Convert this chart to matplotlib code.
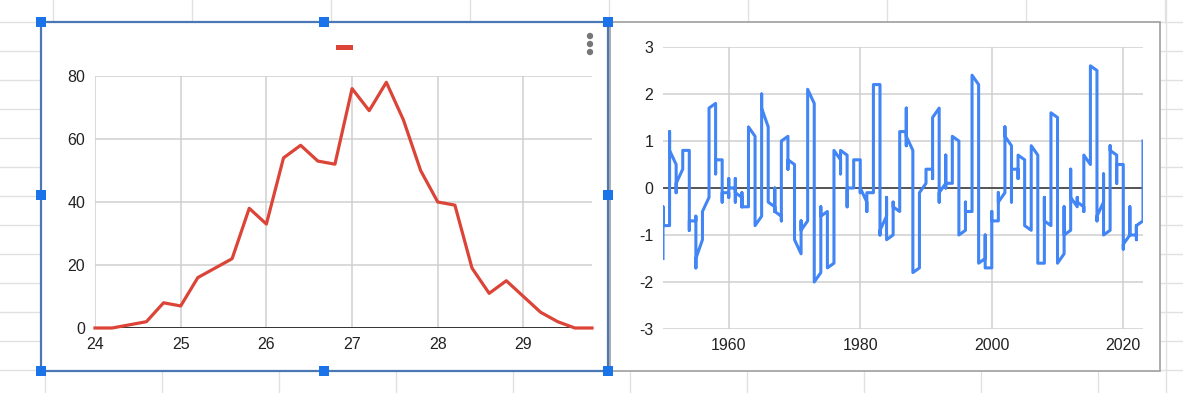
import numpy as np
import matplotlib.pyplot as plt
from matplotlib.patches import Rectangle, Circle

plt.rcParams['font.family'] = ['Liberation Sans', 'DejaVu Sans']
plt.rcParams['axes.unicode_minus'] = False

W, H = 1183, 393

# left chart: counts per temperature bin
temp = [24.0, 24.2, 24.4, 24.6, 24.8, 25.0, 25.2, 25.4, 25.6, 25.8,
        26.0, 26.2, 26.4, 26.6, 26.8, 27.0, 27.2, 27.4, 27.6, 27.8,
        28.0, 28.2, 28.4, 28.6, 28.8, 29.0, 29.2, 29.4, 29.6, 29.8]
counts = [0, 0, 1, 2, 8, 7, 16, 19, 22, 38,
          33, 54, 58, 53, 52, 76, 69, 78, 66, 50,
          40, 39, 19, 11, 15, 10, 5, 2, 0, 0]
temp_ticks = [24, 25, 26, 27, 28, 29]
count_ticks = [0, 20, 40, 60, 80]

# right chart: monthly index, 12 values per year, all plotted at the year
oni_1950s = [
    [-1.5, -1.3, -1.2, -1.2, -1.1, -0.9, -0.5, -0.4, -0.4, -0.4, -0.6, -0.8],
    [-0.8, -0.5, -0.2, 0.2, 0.4, 0.6, 0.7, 0.9, 1.0, 1.2, 1.0, 0.8],
    [0.5, 0.4, 0.3, 0.3, 0.2, 0.0, -0.1, 0.0, 0.2, 0.1, 0.0, 0.1],
    [0.4, 0.6, 0.6, 0.7, 0.8, 0.8, 0.7, 0.7, 0.8, 0.8, 0.8, 0.8],
    [0.8, 0.5, 0.0, -0.4, -0.5, -0.5, -0.6, -0.8, -0.9, -0.8, -0.7, -0.7],
    [-0.7, -0.6, -0.7, -0.8, -0.8, -0.7, -0.7, -0.7, -1.1, -1.4, -1.7, -1.5],
    [-1.1, -0.8, -0.6, -0.5, -0.5, -0.5, -0.5, -0.5, -0.5, -0.5, -0.5, -0.5],
    [-0.2, 0.0, 0.3, 0.6, 0.7, 0.9, 0.9, 0.9, 0.9, 1.0, 1.2, 1.7],
    [1.8, 1.6, 1.2, 0.8, 0.6, 0.6, 0.5, 0.3, 0.3, 0.4, 0.5, 0.6],
    [0.6, 0.6, 0.5, 0.3, 0.2, -0.1, -0.2, -0.3, -0.1, -0.1, -0.1, -0.1],
]
oni_1960s = [
    [-0.1, -0.2, -0.2, -0.1, 0.0, 0.1, 0.2, 0.2, 0.1, 0.0, 0.0, 0.0],
    [0.0, 0.0, -0.1, 0.0, 0.1, 0.2, 0.1, -0.1, -0.3, -0.3, -0.2, -0.1],
    [-0.2, -0.2, -0.2, -0.3, -0.3, -0.2, -0.1, -0.1, -0.2, -0.3, -0.4, -0.4],
    [-0.4, -0.2, 0.2, 0.3, 0.3, 0.5, 0.9, 1.1, 1.2, 1.3, 1.3, 1.3],
    [1.1, 0.6, 0.1, -0.3, -0.6, -0.6, -0.6, -0.7, -0.8, -0.8, -0.8, -0.8],
    [-0.6, -0.3, -0.1, 0.2, 0.5, 0.8, 1.2, 1.5, 1.8, 1.9, 2.0, 1.7],
    [1.3, 1.2, 1.0, 0.7, 0.4, 0.2, 0.2, 0.1, -0.1, -0.1, -0.2, -0.3],
    [-0.4, -0.5, -0.5, -0.4, -0.2, 0.0, 0.0, -0.2, -0.3, -0.4, -0.4, -0.5],
    [-0.6, -0.7, -0.7, -0.6, -0.3, 0.0, 0.3, 0.4, 0.3, 0.4, 0.7, 1.0],
    [1.1, 1.1, 0.9, 0.8, 0.6, 0.4, 0.4, 0.5, 0.8, 0.9, 0.8, 0.6],
]
oni_1970s = [
    [0.5, 0.3, 0.3, 0.2, 0.0, -0.3, -0.6, -0.8, -0.8, -0.7, -0.9, -1.1],
    [-1.4, -1.4, -1.1, -0.8, -0.7, -0.7, -0.8, -0.8, -0.8, -0.9, -1.0, -0.9],
    [-0.7, -0.4, 0.0, 0.3, 0.6, 0.8, 1.1, 1.4, 1.6, 1.8, 2.1, 2.1],
    [1.8, 1.2, 0.5, -0.1, -0.5, -0.9, -1.1, -1.3, -1.5, -1.7, -1.9, -2.0],
    [-1.8, -1.6, -1.2, -1.0, -0.9, -0.8, -0.5, -0.4, -0.4, -0.6, -0.8, -0.6],
    [-0.5, -0.6, -0.7, -0.7, -0.8, -1.0, -1.1, -1.2, -1.4, -1.4, -1.6, -1.7],
    [-1.6, -1.2, -0.7, -0.5, -0.3, 0.0, 0.2, 0.4, 0.6, 0.8, 0.8, 0.8],
    [0.6, 0.6, 0.3, 0.3, 0.3, 0.4, 0.4, 0.4, 0.5, 0.7, 0.8, 0.8],
    [0.7, 0.4, 0.1, -0.2, -0.3, -0.3, -0.4, -0.4, -0.4, -0.3, -0.1, 0.0],
    [0.0, 0.1, 0.2, 0.3, 0.2, 0.0, 0.0, 0.2, 0.3, 0.5, 0.5, 0.6],
]
oni_1980s = [
    [0.6, 0.5, 0.3, 0.4, 0.5, 0.5, 0.3, 0.0, -0.1, 0.0, 0.1, 0.0],
    [-0.3, -0.5, -0.5, -0.4, -0.3, -0.3, -0.3, -0.2, -0.2, -0.1, -0.2, -0.1],
    [-0.1, 0.0, 0.1, 0.4, 0.7, 0.7, 0.8, 1.1, 1.6, 2.0, 2.2, 2.2],
    [2.2, 1.9, 1.5, 1.3, 1.1, 0.7, 0.3, -0.1, -0.5, -0.8, -1.0, -0.9],
    [-0.6, -0.4, -0.3, -0.4, -0.5, -0.4, -0.3, -0.2, -0.2, -0.6, -0.9, -1.1],
    [-1.0, -0.8, -0.8, -0.8, -0.8, -0.6, -0.5, -0.5, -0.4, -0.3, -0.3, -0.4],
    [-0.5, -0.5, -0.3, -0.2, -0.1, 0.0, 0.2, 0.4, 0.7, 0.9, 1.1, 1.2],
    [1.2, 1.2, 1.1, 0.9, 1.0, 1.2, 1.5, 1.7, 1.6, 1.5, 1.3, 1.1],
    [0.8, 0.5, 0.1, -0.3, -0.9, -1.3, -1.3, -1.1, -1.2, -1.5, -1.8, -1.8],
    [-1.7, -1.4, -1.1, -0.8, -0.6, -0.4, -0.3, -0.3, -0.2, -0.2, -0.2, -0.1],
]
oni_1990s = [
    [0.1, 0.2, 0.3, 0.3, 0.2, 0.2, 0.3, 0.3, 0.4, 0.3, 0.4, 0.4],
    [0.4, 0.3, 0.2, 0.3, 0.5, 0.6, 0.7, 0.6, 0.6, 0.8, 1.2, 1.5],
    [1.7, 1.6, 1.5, 1.3, 1.1, 0.7, 0.4, 0.1, -0.1, -0.2, -0.3, -0.1],
    [0.1, 0.3, 0.5, 0.7, 0.7, 0.6, 0.3, 0.3, 0.2, 0.1, 0.0, 0.1],
    [0.1, 0.1, 0.2, 0.3, 0.4, 0.4, 0.4, 0.4, 0.6, 0.7, 1.0, 1.1],
    [1.0, 0.7, 0.5, 0.3, 0.1, 0.0, -0.2, -0.5, -0.8, -1.0, -1.0, -1.0],
    [-0.9, -0.8, -0.6, -0.4, -0.3, -0.3, -0.3, -0.3, -0.4, -0.4, -0.4, -0.5],
    [-0.5, -0.4, -0.1, 0.3, 0.8, 1.2, 1.6, 1.9, 2.1, 2.3, 2.4, 2.4],
    [2.2, 1.9, 1.4, 1.0, 0.5, -0.1, -0.8, -1.1, -1.3, -1.4, -1.5, -1.6],
    [-1.5, -1.3, -1.1, -1.0, -1.0, -1.0, -1.1, -1.1, -1.2, -1.3, -1.5, -1.7],
]
oni_2000s = [
    [-1.7, -1.4, -1.1, -0.8, -0.7, -0.6, -0.6, -0.5, -0.5, -0.6, -0.7, -0.7],
    [-0.7, -0.5, -0.4, -0.3, -0.3, -0.1, -0.1, -0.1, -0.2, -0.3, -0.3, -0.3],
    [-0.1, 0.0, 0.1, 0.2, 0.4, 0.7, 0.8, 0.9, 1.0, 1.2, 1.3, 1.1],
    [0.9, 0.6, 0.4, 0.0, -0.3, -0.2, 0.1, 0.2, 0.3, 0.3, 0.4, 0.4],
    [0.4, 0.3, 0.2, 0.2, 0.2, 0.3, 0.5, 0.6, 0.7, 0.7, 0.7, 0.7],
    [0.6, 0.6, 0.4, 0.4, 0.3, 0.1, -0.1, -0.1, -0.1, -0.3, -0.6, -0.8],
    [-0.9, -0.8, -0.6, -0.4, -0.1, 0.0, 0.1, 0.3, 0.5, 0.8, 0.9, 0.9],
    [0.7, 0.2, -0.1, -0.3, -0.4, -0.5, -0.6, -0.8, -1.1, -1.3, -1.5, -1.6],
    [-1.6, -1.5, -1.3, -1.0, -0.8, -0.6, -0.4, -0.2, -0.2, -0.4, -0.6, -0.7],
    [-0.8, -0.8, -0.6, -0.3, 0.0, 0.3, 0.5, 0.6, 0.7, 1.0, 1.4, 1.6],
]
oni_2010s = [
    [1.5, 1.2, 0.8, 0.4, -0.2, -0.7, -1.0, -1.3, -1.6, -1.6, -1.6, -1.6],
    [-1.4, -1.2, -0.9, -0.7, -0.6, -0.4, -0.5, -0.6, -0.8, -1.0, -1.1, -1.0],
    [-0.9, -0.7, -0.6, -0.5, -0.3, 0.0, 0.2, 0.4, 0.4, 0.3, 0.1, -0.2],
    [-0.4, -0.4, -0.3, -0.3, -0.4, -0.4, -0.4, -0.3, -0.3, -0.2, -0.2, -0.3],
    [-0.4, -0.5, -0.3, 0.0, 0.2, 0.2, 0.0, 0.1, 0.2, 0.5, 0.6, 0.7],
    [0.5, 0.5, 0.5, 0.7, 0.9, 1.2, 1.5, 1.9, 2.2, 2.4, 2.6, 2.6],
    [2.5, 2.1, 1.6, 0.9, 0.4, -0.1, -0.4, -0.5, -0.6, -0.7, -0.7, -0.6],
    [-0.3, -0.2, 0.1, 0.2, 0.3, 0.3, 0.1, -0.1, -0.4, -0.7, -0.8, -1.0],
    [-0.9, -0.9, -0.7, -0.5, -0.2, 0.0, 0.1, 0.2, 0.5, 0.8, 0.9, 0.8],
    [0.7, 0.7, 0.7, 0.7, 0.5, 0.5, 0.3, 0.1, 0.2, 0.3, 0.5, 0.5],
]
oni_2020s = [
    [0.5, 0.5, 0.4, 0.2, -0.1, -0.3, -0.4, -0.6, -0.9, -1.2, -1.3, -1.2],
    [-1.0, -0.9, -0.8, -0.7, -0.5, -0.4, -0.4, -0.5, -0.7, -0.8, -1.0, -1.0],
    [-1.0, -0.9, -1.0, -1.1, -1.0, -0.9, -0.8, -0.9, -1.0, -1.0, -0.9, -0.8],
    [-0.7, -0.4, -0.1, 0.2, 0.5, 0.8, 1.0],
]
first_year = 1950
year_ticks = [1960, 1980, 2000, 2020]
oni_ticks = [-3, -2, -1, 0, 1, 2, 3]

oni_years = oni_1950s + oni_1960s + oni_1970s + oni_1980s + oni_1990s + oni_2000s + oni_2010s + oni_2020s
xs, ys = [], []
for i, vals in enumerate(oni_years):
    xs += [first_year + i] * len(vals)
    ys += vals


def px_axes(x0, y0, x1, y1):
    return fig.add_axes([x0 / W, 1 - y1 / H, (x1 - x0) / W, (y1 - y0) / H])


fig = plt.figure(figsize=(W / 100, H / 100), dpi=100)

# spreadsheet background, in pixel coordinates
bg = fig.add_axes([0, 0, 1, 1])
bg.set_xlim(0, W)
bg.set_ylim(H, 0)
bg.axis('off')
sheet_line = '#e1e1e1'
for y in range(22, H, 29):
    bg.plot([0, W], [y, y], color=sheet_line, lw=1, zorder=0)
for x in range(53, W, 139):
    bg.plot([x, x], [0, 22], color=sheet_line, lw=1, zorder=0)
for x in range(45, W, 117):
    bg.plot([x, x], [371, H], color=sheet_line, lw=1, zorder=0)
bg.plot([1166, 1166], [0, H], color=sheet_line, lw=1, zorder=0)

bg.add_patch(Rectangle((610, 22), 550, 349, facecolor='white', edgecolor='#9e9e9e', lw=1.2, zorder=1))
bg.add_patch(Rectangle((41, 22), 567, 349, facecolor='white', edgecolor='#4a78b4', lw=1.6, zorder=2))
for hx in [41, 324, 608]:
    for hy in [22, 195, 371]:
        if hx == 324 and hy == 195:
            continue
        bg.add_patch(Rectangle((hx - 5, hy - 5), 10, 10, facecolor='#1a73e8', edgecolor='none', zorder=3))

# legend swatch without text and the menu dots
bg.add_patch(Rectangle((336, 45), 17, 5, facecolor='#db4437', edgecolor='none', zorder=3))
for dy in [36, 44, 52]:
    bg.add_patch(Circle((590, dy), 3.2, facecolor='#777777', edgecolor='none', zorder=3))

grid_col = '#cfcfcf'
tick_col = '#222222'

# left chart
ax1 = px_axes(95, 76, 592, 328)
ax1.plot(temp, counts, color='#db4437', lw=2.3, clip_on=False, zorder=4)
ax1.axhline(0, color='#333333', lw=1.4, zorder=3)
ax1.set_xlim(24, 29.8)
ax1.set_ylim(0, 80)
ax1.set_xticks(temp_ticks)
ax1.set_yticks(count_ticks)
ax1.grid(True, color=grid_col, lw=1.1)
ax1.set_axisbelow(True)
for s in ax1.spines.values():
    s.set_visible(False)
ax1.tick_params(axis='both', length=0, labelsize=11.5, labelcolor=tick_col)
ax1.tick_params(axis='x', pad=6.5)
ax1.tick_params(axis='y', pad=7)
ax1.patch.set_alpha(0)

# right chart
ax2 = px_axes(663, 47, 1143, 329)
ax2.plot(xs, ys, color='#4285f4', lw=2.2, zorder=4)
ax2.axhline(0, color='#555555', lw=1.4, zorder=3)
ax2.set_xlim(1950, 2023)
ax2.set_ylim(-3, 3)
ax2.set_xticks(year_ticks)
ax2.set_yticks(oni_ticks)
ax2.grid(True, color=grid_col, lw=1.1)
ax2.set_axisbelow(True)
for s in ax2.spines.values():
    s.set_visible(False)
ax2.tick_params(axis='both', length=0, labelsize=11.5, labelcolor=tick_col)
ax2.tick_params(axis='x', pad=6.5)
ax2.tick_params(axis='y', pad=7)
ax2.patch.set_alpha(0)

plt.savefig('out.png', dpi=100)
